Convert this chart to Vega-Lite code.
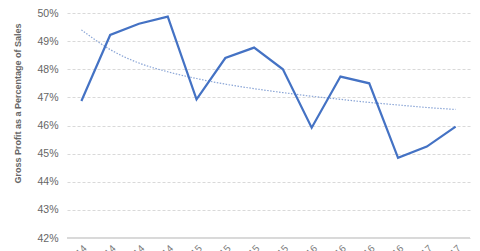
{
  "$schema": "https://vega.github.io/schema/vega-lite/v6.json",
  "autosize": {"type": "none"},
  "width": 403,
  "height": 225,
  "padding": {"left": 67, "top": 13, "right": 10, "bottom": 13},
  "background": "white",
  "config": {
    "view": {"stroke": null},
    "font": "Liberation Sans"
  },
  "data": {
    "values": [
      {"q": "Q1 2014", "gp": 46.87, "trend": 49.40},
      {"q": "Q2 2014", "gp": 49.22, "trend": 48.70},
      {"q": "Q3 2014", "gp": 49.62, "trend": 48.22},
      {"q": "Q4 2014", "gp": 49.87, "trend": 47.91},
      {"q": "Q1 2015", "gp": 46.93, "trend": 47.67},
      {"q": "Q2 2015", "gp": 48.40, "trend": 47.47},
      {"q": "Q3 2015", "gp": 48.77, "trend": 47.31},
      {"q": "Q4 2015", "gp": 48.00, "trend": 47.17},
      {"q": "Q1 2016", "gp": 45.92, "trend": 47.04},
      {"q": "Q2 2016", "gp": 47.74, "trend": 46.93},
      {"q": "Q3 2016", "gp": 47.50, "trend": 46.82},
      {"q": "Q4 2016", "gp": 44.85, "trend": 46.73},
      {"q": "Q1 2017", "gp": 45.25, "trend": 46.64},
      {"q": "Q2 2017", "gp": 45.96, "trend": 46.57}
    ]
  },
  "encoding": {
    "x": {
      "field": "q", "type": "ordinal", "sort": null,
      "scale": {"type": "point", "padding": 0.5},
      "axis": {
        "title": null, "labelAngle": -45, "ticks": false, "domain": false,
        "labelFontSize": 10, "labelColor": "#7f7f7f", "labelPadding": 5, "grid": false
      }
    },
    "y": {
      "field": "gp", "type": "quantitative",
      "scale": {"domain": [42, 50], "nice": false, "zero": false},
      "axis": {
        "title": "Gross Profit as a Percentage of Sales",
        "titleFontSize": 9, "titleFontWeight": "bold", "titleColor": "#666666",
        "titleAnchor": "middle", "titleX": -45, "titleY": 90,
        "values": [42, 43, 44, 45, 46, 47, 48, 49, 50],
        "labelOverlap": false,
        "labelExpr": "datum.value + '%'",
        "labelFontSize": 10.5, "labelColor": "#666666", "labelPadding": 9,
        "ticks": false, "domain": false,
        "grid": true, "gridColor": "#d9d9d9", "gridDash": [3, 2], "gridWidth": 1
      }
    }
  },
  "layer": [
    {
      "mark": {"type": "line", "color": "#8aa5d6", "strokeWidth": 1.2, "strokeDash": [1.5, 1.5], "interpolate": "monotone"},
      "encoding": {
        "y": {"field": "trend", "type": "quantitative", "scale": {"domain": [42, 50], "nice": false, "zero": false},
          "axis": {
            "title": "Gross Profit as a Percentage of Sales",
            "titleFontSize": 9, "titleFontWeight": "bold", "titleColor": "#666666",
            "titleAnchor": "middle", "titleX": -45, "titleY": 90,
            "values": [42, 43, 44, 45, 46, 47, 48, 49, 50],
            "labelOverlap": false,
            "labelExpr": "datum.value + '%'",
            "labelFontSize": 10.5, "labelColor": "#666666", "labelPadding": 9,
            "ticks": false, "domain": false,
            "grid": true, "gridColor": "#d9d9d9", "gridDash": [3, 2], "gridWidth": 1
          }}
      }
    },
    {
      "mark": {"type": "line", "color": "#4472c4", "strokeWidth": 2.2}
    },
    {
      "mark": {"type": "rule", "color": "#d9d9d9", "strokeWidth": 1},
      "encoding": {"y": {"datum": 42, "type": "quantitative"}, "x": null}
    }
  ]
}
